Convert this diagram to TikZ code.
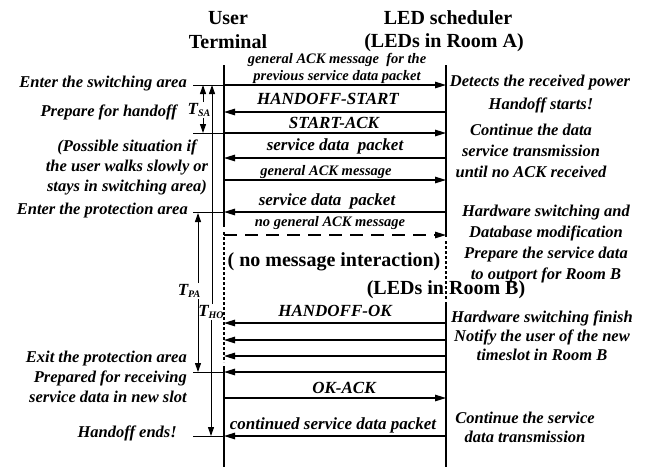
\documentclass[tikz,border=0pt]{standalone}
\usepackage{fontspec}
\setmainfont{Liberation Serif}
\usetikzlibrary{arrows.meta}
\begin{document}
\begin{tikzpicture}[x=1pt,y=-1pt,
  hdr/.style={font=\fontsize{20}{24}\selectfont\bfseries, inner sep=0pt},
  lab/.style={font=\fontsize{16.5}{20}\selectfont\bfseries\itshape, inner sep=0pt},
  labB/.style={font=\fontsize{16.5}{21}\selectfont\bfseries\itshape, inner sep=0pt, align=center},
  labC/.style={font=\fontsize{16.5}{19}\selectfont\bfseries\itshape, inner sep=0pt, align=center},
  msg/.style={font=\fontsize{17}{20}\selectfont\bfseries\itshape, inner sep=0pt},
  sml/.style={font=\fontsize{14.5}{17}\selectfont\bfseries\itshape, inner sep=0pt},
  tlab/.style={font=\fontsize{17}{17}\selectfont\bfseries\itshape, inner sep=1pt},
  life/.style={line width=2.2pt},
  lifedot/.style={line width=2.2pt, dash pattern=on 2.5pt off 2.5pt},
  msgarrow/.style={line width=1.3pt, -{Triangle[length=11pt,width=6.5pt]}},
  evt/.style={line width=0.9pt},
  durtip/.style={line width=1pt, -{Triangle[length=9pt,width=6pt]}},
  durline/.style={line width=1pt},
]
\useasboundingbox (0,0) rectangle (649,467);

% lifeline coordinates
\foreach \y in {65,85,112,133,158,180,212,227,232,235,237,241,300,302,323,340,356,362,366,372,398,436,467}{
  \coordinate (u\y) at (224,\y);
  \coordinate (l\y) at (446,\y);
  \coordinate (e\y) at (193,\y);
}

% headers
\node[hdr] (hu1) at (228,18) {User};
\node[hdr] (hu2) at (228,42) {Terminal};
\node[hdr] (hl1) at (448,18) {LED scheduler};
\node[hdr] (hl2) at (444,43) {(LEDs in Room A)};

% lifelines
\draw[life] (u65) -- (u227);
\draw[lifedot] (u232) -- (u362);
\draw[life] (u366) -- (u467);
\draw[life] (l65) -- (l237);
\draw[lifedot] (l241) -- (l300);
\draw[life] (l302) -- (l467);

% event lines
\draw[evt] (e85) -- (u85);
\draw[evt] (e133) -- (u133);
\draw[evt] (e212) -- (u212);
\draw[evt] (e372) -- (u372);
\draw[evt] (e436) -- (u436);

% messages
\draw[msgarrow] (u85) -- (l85);
\draw[msgarrow] (l112) -- (u112);
\draw[msgarrow] (u133) -- (l133);
\draw[msgarrow] (l158) -- (u158);
\draw[msgarrow] (u180) -- (l180);
\draw[msgarrow] (l212) -- (u212);
\draw[msgarrow, dash pattern=on 13pt off 8pt] (u235) -- (l235);
\draw[msgarrow] (l323) -- (u323);
\draw[msgarrow] (l340) -- (u340);
\draw[msgarrow] (l356) -- (u356);
\draw[msgarrow] (l372) -- (u372);
\draw[msgarrow] (u398) -- (l398);
\draw[msgarrow] (l436) -- (u436);

\node[sml] (m1a) at (337,60) {general ACK message\ \ for the};
\node[sml] (m1b) at (337,77) {previous service data packet};
\node[msg] (m2) at (328,99) {HANDOFF-START};
\node[msg] (m3) at (334,123) {START-ACK};
\node[msg] (m4) at (335,146) {service data\ \ packet};
\node[sml] (m5) at (326,172) {general ACK message};
\node[msg] (m6) at (327,201) {service data\ \ packet};
\node[sml] (m7) at (330,223) {no general ACK message};
\node[hdr] (m8) at (334,262) {( no message interaction)};
\node[hdr] (m9) at (446,290) {(LEDs in Room B)};
\node[msg] (m10) at (335,311) {HANDOFF-OK};
\node[msg] (m11) at (344,388) {OK-ACK};
\node[msg] (m12) at (333,425) {continued service data packet};

% duration markers
\coordinate (sa1) at (203,85);
\coordinate (sa2) at (203,133);
\node[tlab] (tsa) at (199,110) {T\raisebox{-2pt}{\fontsize{10}{10}\selectfont SA}};
\draw[durtip] (tsa.north -| sa1) -- (sa1);
\draw[durtip] (tsa.south -| sa2) -- (sa2);

\coordinate (pa1) at (198,213);
\coordinate (pa2) at (198,372);
\node[tlab] (tpa) at (189,291) {T\raisebox{-2pt}{\fontsize{10}{10}\selectfont PA}};
\draw[durtip] (tpa.north -| pa1) -- (pa1);
\draw[durtip] (tpa.south -| pa2) -- (pa2);

\coordinate (ho1) at (212,85);
\coordinate (ho2) at (211,436);
\node[tlab] (tho) at (211,312) {T\raisebox{-2pt}{\fontsize{10}{10}\selectfont HO}};
\draw[durtip] (tho.north -| ho1) -- (ho1);
\draw[durtip] (tho.south -| ho2) -- (ho2);

% left labels
\node[lab, anchor=east] (a1) at (187,84) {Enter the switching area};
\node[lab, anchor=east] (a2) at (177,112) {Prepare for handoff};
\node[lab, align=center] (a3) at (127,167) {(Possible situation if\\the user walks slowly or\\stays in switching area)};
\node[lab, anchor=east] (a4) at (188,211) {Enter the protection area};
\node[lab, anchor=east, align=right] (a5) at (187,377) {Exit the protection area\\Prepared for receiving\\service data in new slot};
\node[lab, anchor=east] (a6) at (177,433) {Handoff ends!};

% right labels
\node[lab] (b1) at (540,83) {Detects the received power};
\node[lab] (b2) at (541,105) {Handoff starts!};
\node[labB] (b3) at (531,151) {Continue the data\\service transmission\\until no ACK received};
\node[labB] (b4) at (546,244) {Hardware switching and\\Database modification\\Prepare the service data\\to outport for Room B};
\node[labC] (b5) at (542,336) {Hardware switching finish\\Notify the user of the new\\timeslot in Room B};
\node[labC] (b6) at (525,427) {Continue the service\\data transmission};
\end{tikzpicture}
\end{document}
